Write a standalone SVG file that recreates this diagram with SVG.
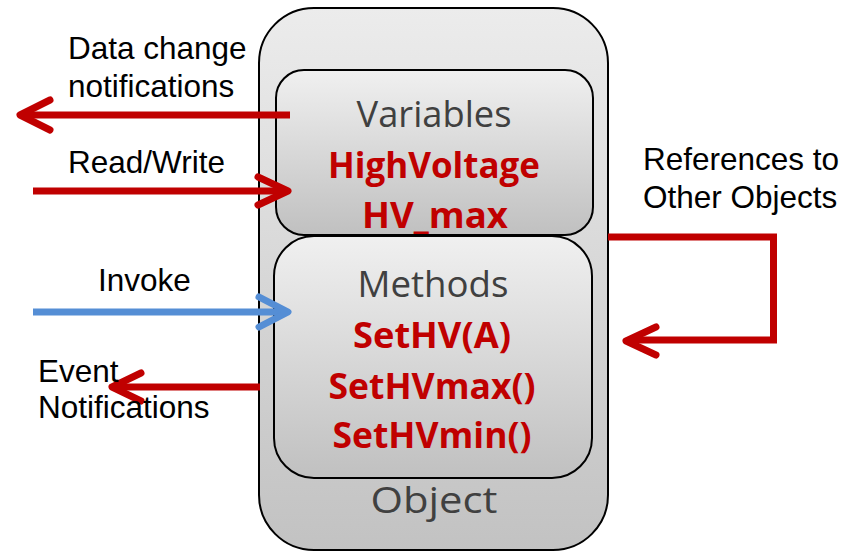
<svg xmlns="http://www.w3.org/2000/svg" width="856" height="552" viewBox="0 0 856 552">
<defs>
<linearGradient id="gOuter" x1="0" y1="0" x2="0" y2="1">
<stop offset="0" stop-color="#ececec"/>
<stop offset="1" stop-color="#c2c2c2"/>
</linearGradient>
<linearGradient id="gInner" x1="0" y1="0" x2="0" y2="1">
<stop offset="0" stop-color="#f0f0f0"/>
<stop offset="1" stop-color="#c0c0c0"/>
</linearGradient>
<style>
.box{stroke:#000;stroke-width:2}
.lbl{font-family:"Liberation Sans",Arial,sans-serif;font-size:31.5px;fill:#000}
.head{font-family:"Open Sans","Noto Sans",sans-serif;font-size:37px;fill:#404040;text-anchor:middle}
.item{font-family:"Open Sans","Noto Sans",sans-serif;font-size:35px;font-weight:bold;fill:#c00000;text-anchor:middle}
.red{fill:none;stroke:#c00000;stroke-width:7}
.blue{fill:none;stroke:#558ed5;stroke-width:7}
.head-arrow{stroke-linecap:round;stroke-linejoin:round}
</style>
</defs>
<rect width="856" height="552" fill="#fff"/>
<g id="object">
<rect class="box" x="259" y="8" width="349" height="542" rx="55" ry="55" fill="url(#gOuter)"/>
<text class="head" x="434" y="513" font-size="41" fill="#595959" textLength="127" lengthAdjust="spacingAndGlyphs">Object</text>
</g>
<g id="variables">
<rect class="box" x="276" y="70" width="317" height="165" rx="28" ry="28" fill="url(#gInner)"/>
<text class="head" x="434" y="127" textLength="155" lengthAdjust="spacingAndGlyphs">Variables</text>
<text class="item" x="434" y="178" textLength="212" lengthAdjust="spacingAndGlyphs">HighVoltage</text>
<text class="item" x="435" y="228" textLength="146" lengthAdjust="spacingAndGlyphs">HV_max</text>
</g>
<g id="methods">
<rect class="box" x="274" y="236" width="318" height="242" rx="40" ry="40" fill="url(#gInner)"/>
<text class="head" x="433" y="297" textLength="151" lengthAdjust="spacingAndGlyphs">Methods</text>
<text class="item" x="432" y="348" textLength="158" lengthAdjust="spacingAndGlyphs">SetHV(A)</text>
<text class="item" x="432" y="399" textLength="207" lengthAdjust="spacingAndGlyphs">SetHVmax()</text>
<text class="item" x="432" y="448" textLength="199" lengthAdjust="spacingAndGlyphs">SetHVmin()</text>
</g>
<g id="connectors">
<line class="red" x1="290" y1="115" x2="24" y2="115"/>
<polyline class="red head-arrow" points="50,100 20,115 50,130"/>
<line class="red" x1="33" y1="191" x2="284" y2="191"/>
<polyline class="red head-arrow" points="258,177 288,191 258,205"/>
<line class="blue" x1="33" y1="312" x2="284" y2="312"/>
<polyline class="blue head-arrow" points="259,297 288,312 259,327"/>
<line class="red" x1="260" y1="387" x2="116" y2="387"/>
<polyline class="red head-arrow" points="141,373 112,387 141,401"/>
<polyline class="red" points="608,237 773.5,237 773.5,340 630,340" stroke-linejoin="miter"/>
<polyline class="red head-arrow" points="656,327 626,341 656,355"/>
</g>
<g id="labels">
<text class="lbl" x="68" y="59">Data change</text>
<text class="lbl" x="68" y="97">notifications</text>
<text class="lbl" x="68" y="173">Read/Write</text>
<text class="lbl" x="98" y="291">Invoke</text>
<text class="lbl" x="38" y="382">Event</text>
<text class="lbl" x="38" y="418">Notifications</text>
<text class="lbl" x="643" y="170">References to</text>
<text class="lbl" x="643" y="208">Other Objects</text>
</g>
</svg>
